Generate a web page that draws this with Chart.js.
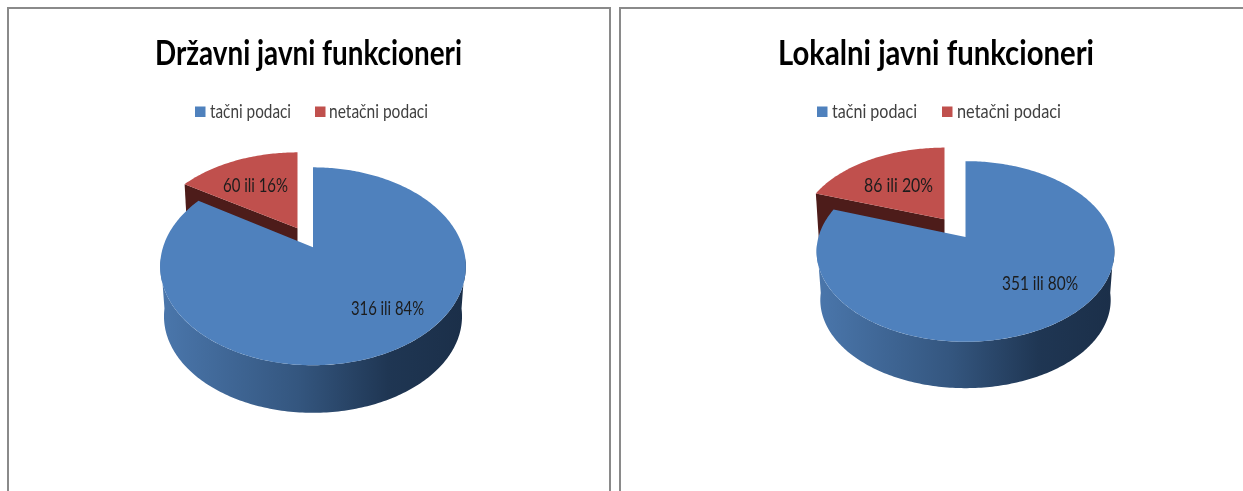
<!DOCTYPE html>
<html><head><meta charset="utf-8">
<script src="https://cdn.jsdelivr.net/npm/chart.js@4"></script>
<style>
html,body{margin:0;padding:0;background:#fff;width:1243px;height:491px;overflow:hidden}
.p{position:absolute;top:7px;height:484px;box-sizing:border-box;border:2px solid #8a8a8a;border-bottom:none}
.p canvas{position:absolute;left:0;top:0;filter:blur(0.45px)}
</style></head><body>
<div class="p" style="left:7px;width:604px"><canvas id="a" width="600" height="482"></canvas></div>
<div class="p" style="left:619px;width:640px;border-right:none"><canvas id="b" width="622" height="482"></canvas></div>
<script>
const categories = ["tačni podaci", "netačni podaci"];
const titleLeft = "Državni javni funkcioneri";
const titleRight = "Lokalni javni funkcioneri";
const valuesLeft = [316, 60];
const valuesRight = [351, 86];
const labelsLeft = ["316 ili 84%", "60 ili 16%"];
const labelsRight = ["351 ili 80%", "86 ili 20%"];
const FONT = 'Lato,"Liberation Sans",sans-serif';

function proj(g, a, s, ox, oy, depth, ds) {
  const x = Math.cos(a), y = Math.sin(a), w = 1 - g.k * y;
  const f = depth ? ds : 1;
  return [g.cx + ox + g.A * x / w * f * s[0], g.cy + oy + g.B * y / w * f * s[1] + (depth || 0)];
}
function rim(ctx, g, a0, a1, s, ox, oy, depth, ds, move) {
  const n = Math.max(2, Math.ceil(Math.abs(a1 - a0) * 60));
  for (let i = 0; i <= n; i++) {
    const p = proj(g, a0 + (a1 - a0) * i / n, s, ox, oy, depth, ds);
    if (i === 0 && move) ctx.moveTo(p[0], p[1]); else ctx.lineTo(p[0], p[1]);
  }
}
// text squeezed horizontally to the reference's narrow face
function fit(ctx, t, left, cy, font, width, color) {
  ctx.save();
  ctx.font = font; ctx.fillStyle = color; ctx.textAlign = 'left'; ctx.textBaseline = 'alphabetic';
  const m = ctx.measureText(t).width;
  ctx.translate(left, cy);
  ctx.scale(width / m, 1);
  ctx.fillText(t, 0, 0);
  ctx.restore();
}
const pie3d = {
  id: 'pie3d',
  beforeDatasetDraw(chart, args) {
    const g = chart.options.plugins.pie3d, ctx = chart.ctx;
    const arcs = chart.getDatasetMeta(args.index).data;
    [1, 0].forEach(i => {
      const arc = arcs[i];
      const s = i === 1 ? g.s : [1, 1], ox = i === 1 ? g.ox : 0, oy = i === 1 ? g.oy : 0;
      const a0 = arc.startAngle, a1 = arc.endAngle;
      const c = [g.cx + ox, g.cy + oy];
      ctx.save();
      if (i === 1) {
        const e = proj(g, a0, s, ox, oy), e2 = proj(g, a0, s, ox, oy, g.depth, g.ds);
        ctx.beginPath();
        ctx.moveTo(c[0], c[1]); ctx.lineTo(e[0], e[1]); ctx.lineTo(e2[0], e2[1]); ctx.lineTo(c[0], c[1] + g.depth);
        ctx.closePath();
        ctx.fillStyle = '#4d1c1a'; ctx.fill();
      } else {
        const from = Math.max(a0, Math.asin(g.k) - 0.08), to = Math.min(a1, Math.PI - Math.asin(g.k) + 0.08);
        const gr = ctx.createLinearGradient(g.cx - g.A, 0, g.cx + g.A, 0);
        gr.addColorStop(0, '#4a76ab'); gr.addColorStop(0.45, '#34567f'); gr.addColorStop(0.75, '#1f3653'); gr.addColorStop(1, '#1b2f49');
        ctx.beginPath();
        rim(ctx, g, from, to, s, 0, 0, 0, 1, true);
        rim(ctx, g, to, from, s, 0, 0, g.depth, g.ds, false);
        ctx.closePath();
        ctx.fillStyle = gr; ctx.fill();
      }
      ctx.beginPath();
      ctx.moveTo(c[0], c[1]);
      rim(ctx, g, a0, a1, s, ox, oy, 0, 1, false);
      ctx.closePath();
      ctx.fillStyle = arc.options.backgroundColor; ctx.fill();
      ctx.restore();
    });
    return false;
  },
  afterDatasetsDraw(chart) {
    const g = chart.options.plugins.pie3d, ctx = chart.ctx;
    fit(ctx, g.title, g.titlePos[0], g.titlePos[1], 'bold 35px ' + FONT, g.titlePos[2], '#000');
    g.texts.forEach((t, i) => fit(ctx, t, g.textPos[i][0], g.textPos[i][1], '20px ' + FONT, g.textPos[i][2], '#1c1c1c'));
    chart.data.labels.forEach((t, i) => {
      const [bx, tx, tw] = g.legendPos[i];
      ctx.fillStyle = chart.data.datasets[0].backgroundColor[i];
      ctx.fillRect(bx, g.legendY - 5.5, 10.5, 10.5);
      fit(ctx, t, tx, g.legendY + 6, '20px ' + FONT, tw, '#404040');
    });
  }
};
function make(id, title, values, texts, geo) {
  return new Chart(document.getElementById(id), {
    type: 'pie',
    data: { labels: categories, datasets: [{ data: values, backgroundColor: ['#4f81bd', '#c0504d'], borderWidth: 0 }] },
    plugins: [pie3d],
    options: {
      responsive: false, animation: false, events: [],
      layout: { padding: 0 },
      plugins: {
        legend: { display: false }, tooltip: { enabled: false }, title: { display: false },
        pie3d: Object.assign({ texts, title }, geo)
      }
    }
  });
}
// canvas origin = (9,9) left, (621,9) right
make('a', titleLeft, valuesLeft, labelsLeft, {
  cx: 304, cy: 238.3, A: 150, B: 95.3, k: 0.192, depth: 50.5, ds: 0.975,
  s: [0.985, 0.95], ox: -15.5, oy: -19,
  titlePos: [146, 55.5, 307],
  textPos: [[342, 305.5, 73], [214, 182.5, 65]],
  legendY: 103, legendPos: [[186, 201, 81], [306, 320, 99]]
});
make('b', titleRight, valuesRight, labelsRight, {
  cx: 344.5, cy: 228, A: 147, B: 88, k: 0.16, depth: 49, ds: 0.975,
  s: [0.975, 0.945], ox: -21, oy: -17.7,
  titlePos: [157, 55.5, 316],
  textPos: [[381, 280.5, 76], [243, 182.5, 69]],
  legendY: 103, legendPos: [[196, 211, 85], [321, 336, 104]]
});
</script>
</body></html>
